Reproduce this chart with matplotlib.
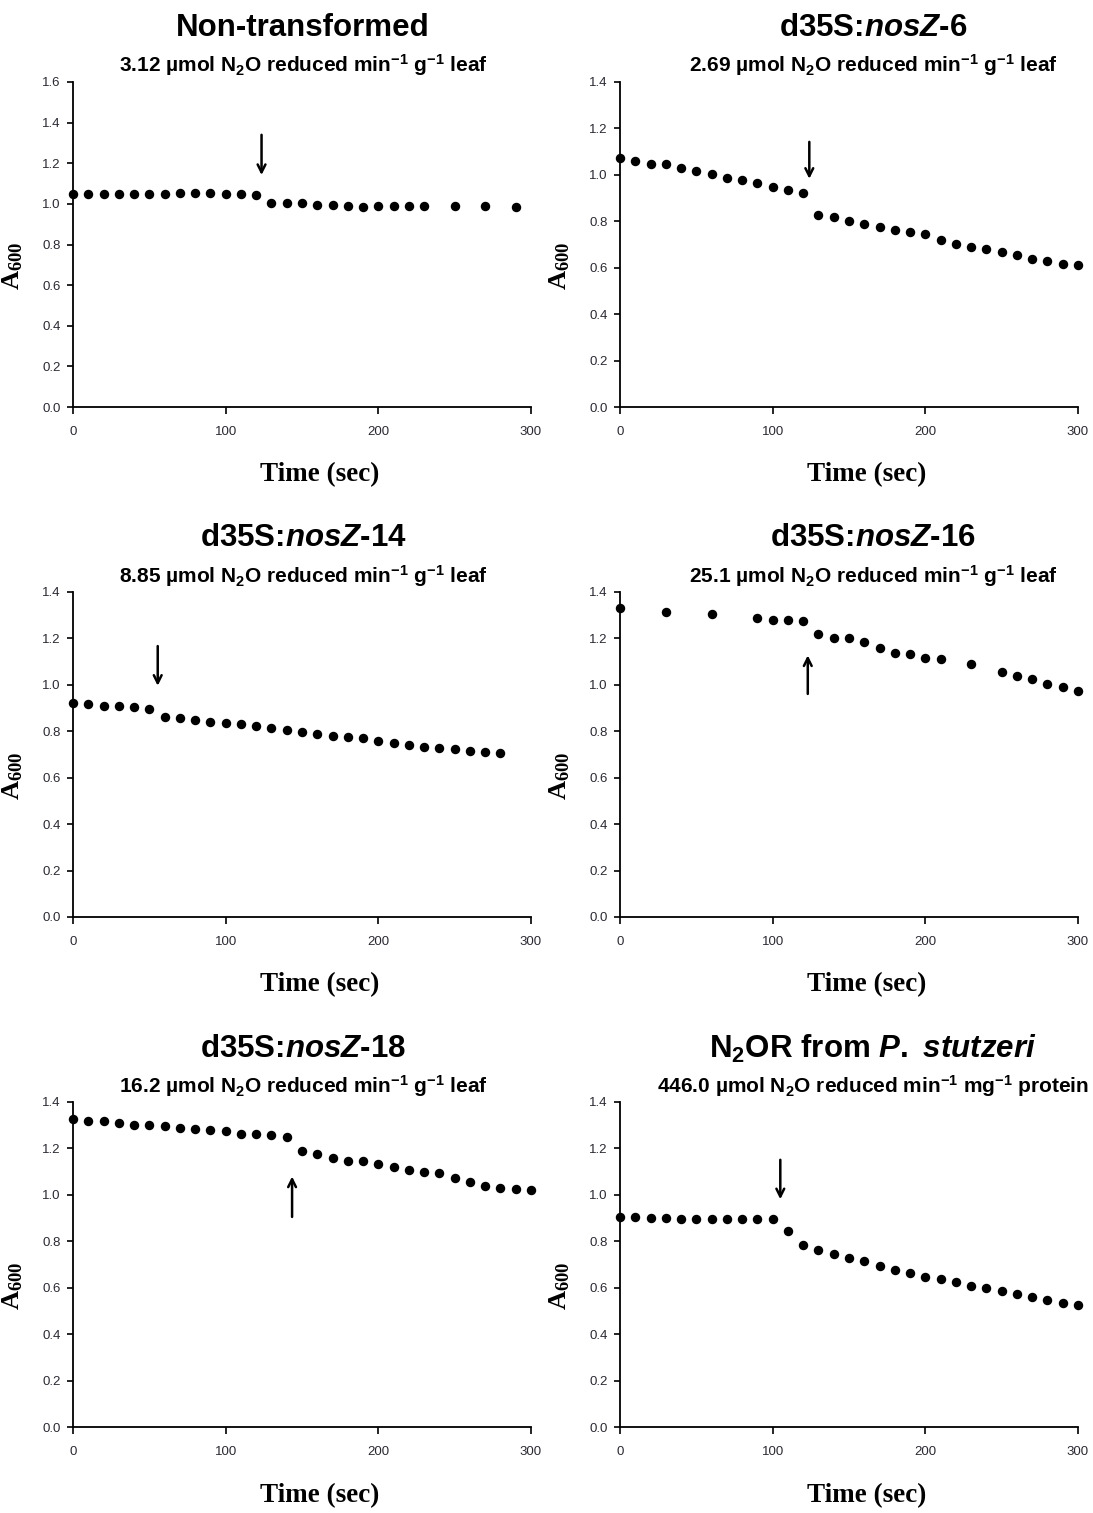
import matplotlib
matplotlib.use("Agg")
import matplotlib.pyplot as plt
import numpy as np

plt.rcParams['font.family'] = ['Liberation Sans', 'DejaVu Sans']
plt.rcParams['mathtext.fontset'] = 'custom'
plt.rcParams['mathtext.rm'] = 'Liberation Sans:bold'
plt.rcParams['mathtext.it'] = 'Liberation Sans:bold:italic'
plt.rcParams['mathtext.bf'] = 'Liberation Serif:bold'

# ---------------- data ----------------
titles = ["Non-transformed", r"d35S:$\mathit{nosZ}$-6", r"d35S:$\mathit{nosZ}$-14",
          r"d35S:$\mathit{nosZ}$-16", r"d35S:$\mathit{nosZ}$-18",
          r"N$_2$OR from $\mathit{P.\ stutzeri}$"]
subtitles = [r"3.12 µmol N$_2$O reduced min$^{-1}$ g$^{-1}$ leaf",
             r"2.69 µmol N$_2$O reduced min$^{-1}$ g$^{-1}$ leaf",
             r"8.85 µmol N$_2$O reduced min$^{-1}$ g$^{-1}$ leaf",
             r"25.1 µmol N$_2$O reduced min$^{-1}$ g$^{-1}$ leaf",
             r"16.2 µmol N$_2$O reduced min$^{-1}$ g$^{-1}$ leaf",
             r"446.0 µmol N$_2$O reduced min$^{-1}$ mg$^{-1}$ protein"]

t1 = [0, 10, 20, 30, 40, 50, 60, 70, 80, 90, 100, 110, 120,
      130, 140, 150, 160, 170, 180, 190, 200, 210, 220, 230, 250, 270, 290]
a1 = [1.05, 1.05, 1.05, 1.048, 1.048, 1.05, 1.05, 1.055, 1.055, 1.053, 1.05, 1.048, 1.046,
      1.005, 1.005, 1.005, 0.995, 0.993, 0.99, 0.985, 0.988, 0.988, 0.99, 0.99, 0.99, 0.988, 0.985]

t2 = list(range(0, 301, 10))
a2 = [1.071, 1.058, 1.048, 1.045, 1.031, 1.015, 1.003, 0.988, 0.979, 0.964, 0.949, 0.934, 0.924,
      0.829, 0.819, 0.803, 0.788, 0.774, 0.762, 0.753, 0.746, 0.719, 0.704, 0.691, 0.679,
      0.669, 0.654, 0.638, 0.627, 0.618, 0.612]

t3 = list(range(0, 281, 10))
a3 = [0.922, 0.916, 0.910, 0.907, 0.903, 0.897, 0.860, 0.857, 0.847, 0.839, 0.836, 0.832,
      0.822, 0.815, 0.804, 0.799, 0.787, 0.780, 0.777, 0.772, 0.760, 0.750, 0.740, 0.733,
      0.727, 0.722, 0.716, 0.711, 0.705]

t4 = [0, 30, 60, 90, 100, 110, 120, 130, 140, 150, 160, 170, 180, 190, 200, 210,
      230, 250, 260, 270, 280, 290, 300]
a4 = [1.332, 1.316, 1.307, 1.288, 1.281, 1.280, 1.277, 1.219, 1.201, 1.201, 1.184, 1.158,
      1.139, 1.132, 1.117, 1.113, 1.088, 1.055, 1.039, 1.026, 1.004, 0.990, 0.974]

t5 = list(range(0, 301, 10))
a5 = [1.326, 1.320, 1.318, 1.310, 1.303, 1.302, 1.297, 1.290, 1.283, 1.279, 1.273, 1.263,
      1.262, 1.259, 1.250, 1.190, 1.174, 1.158, 1.145, 1.145, 1.131, 1.118, 1.109, 1.099,
      1.095, 1.073, 1.055, 1.037, 1.029, 1.025, 1.020]

t6 = list(range(0, 301, 10))
a6 = [0.906, 0.904, 0.901, 0.901, 0.898, 0.898, 0.897, 0.895, 0.895, 0.895, 0.895, 0.846,
      0.786, 0.763, 0.746, 0.728, 0.713, 0.694, 0.678, 0.662, 0.648, 0.638, 0.624, 0.609,
      0.598, 0.584, 0.572, 0.558, 0.547, 0.534, 0.525]

times = [t1, t2, t3, t4, t5, t6]
absorb = [a1, a2, a3, a4, a5, a6]
ymax = [1.6, 1.4, 1.4, 1.4, 1.4, 1.4]

# arrows: time, tail value, tip value
arrow_t = [123.5, 124, 55.5, 123, 143.5, 105]
arrow_tail = [1.34, 1.142, 1.167, 0.961, 0.905, 1.151]
arrow_tip = [1.142, 0.983, 0.996, 1.127, 1.079, 0.981]

# ---------------- layout ----------------
W, H = 1093, 1513
fig = plt.figure(figsize=(W / 100, H / 100), dpi=100)

col_left = [73, 620]
row_top = [82, 592, 1102]
ax_w, ax_h = 458, 325
title_x = [303, 873]
title_y = [28, 538, 1049]
sub_y = [65, 576, 1086]
timelab_x = [320, 867]
timelab_y = [475, 985, 1496]

for i in range(6):
    r, c = divmod(i, 2)
    l = col_left[c] / W
    b = 1 - (row_top[r] + ax_h) / H
    ax = fig.add_axes([l, b, ax_w / W, ax_h / H])
    ax.plot(times[i], absorb[i], 'o', color='black', ms=5.8, clip_on=False, zorder=3)
    ax.set_xlim(0, 300)
    ax.set_ylim(0, ymax[i])
    ax.set_xticks([0, 100, 200, 300])
    ax.set_yticks(np.arange(0, ymax[i] + 0.001, 0.2))
    ax.yaxis.set_major_formatter(matplotlib.ticker.FormatStrFormatter('%.1f'))
    for s in ['top', 'right']:
        ax.spines[s].set_visible(False)
    for s in ['left', 'bottom']:
        ax.spines[s].set_linewidth(1.3)
    ax.tick_params(axis='x', direction='out', length=5, width=1.2, pad=9,
                   labelsize=9.5, labelcolor='#2a2a33')
    ax.tick_params(axis='y', direction='out', length=4, width=1.2, pad=5,
                   labelsize=9.5, labelcolor='#2a2a33')
    ax.set_ylabel(r'$\mathbf{A_{600}}$', fontsize=19)
    ax.yaxis.set_label_coords(-0.105, 0.435)
    ax.annotate('', xy=(arrow_t[i], arrow_tip[i]), xytext=(arrow_t[i], arrow_tail[i]),
                arrowprops=dict(arrowstyle='->', lw=1.8, color='black',
                                mutation_scale=14, shrinkA=0, shrinkB=0))

    fig.text(title_x[c] / W, 1 - title_y[r] / H, titles[i], ha='center', va='center',
             fontsize=22.5, fontweight='bold')
    fig.text(title_x[c] / W, 1 - sub_y[r] / H, subtitles[i], ha='center', va='center',
             fontsize=15, fontweight='bold')
    fig.text(timelab_x[c] / W, 1 - timelab_y[r] / H, 'Time (sec)', ha='center', va='center',
             fontsize=19.5, fontweight='bold', family='Liberation Serif')

fig.savefig('out.png', dpi=100)
